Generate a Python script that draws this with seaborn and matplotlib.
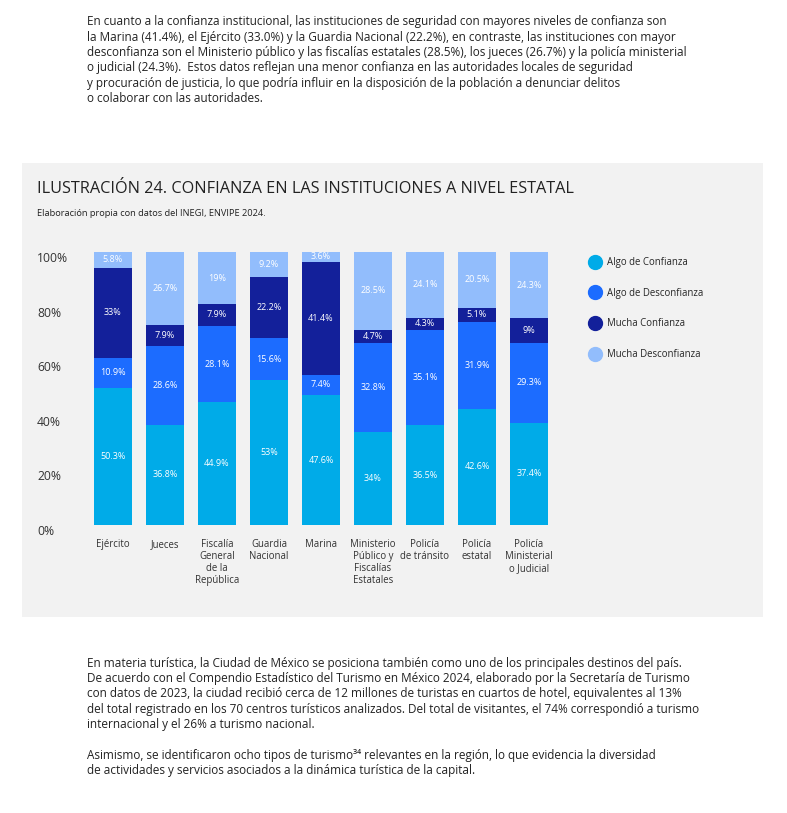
import numpy as np
import pandas as pd
import seaborn as sns
import matplotlib
matplotlib.use('Agg')
import matplotlib.pyplot as plt
from matplotlib.patches import Rectangle
from matplotlib.lines import Line2D

# Data (percentages, bottom to top)
categories = ["Ejército", "Jueces", "Fiscalía\nGeneral\nde la\nRepública", "Guardia\nNacional",
              "Marina", "Ministerio\nPúblico y\nFiscalías\nEstatales", "Policía\nde tránsito",
              "Policía\nestatal", "Policía\nMinisterial\no Judicial"]
algo_confianza = [50.3, 36.8, 44.9, 53.0, 47.6, 34.0, 36.5, 42.6, 37.4]
algo_desconfianza = [10.9, 28.6, 28.1, 15.6, 7.4, 32.8, 35.1, 31.9, 29.3]
mucha_confianza = [33.0, 7.9, 7.9, 22.2, 41.4, 4.7, 4.3, 5.1, 9.0]
mucha_desconfianza = [5.8, 26.7, 19.0, 9.2, 3.6, 28.5, 24.1, 20.5, 24.3]

series_names = ["Algo de Confianza", "Algo de Desconfianza", "Mucha Confianza", "Mucha Desconfianza"]
series_values = [algo_confianza, algo_desconfianza, mucha_confianza, mucha_desconfianza]
series_colors = ["#00abe8", "#1c6cff", "#13209a", "#92bdfc"]

intro_lines = [
    "En cuanto a la confianza institucional, las instituciones de seguridad con mayores niveles de confianza son",
    "la Marina (41.4%), el Ejército (33.0%) y la Guardia Nacional (22.2%), en contraste, las instituciones con mayor",
    "desconfianza son el Ministerio público y las fiscalías estatales (28.5%), los jueces (26.7%) y la policía ministerial",
    "o judicial (24.3%).  Estos datos reflejan una menor confianza en las autoridades locales de seguridad",
    "y procuración de justicia, lo que podría influir en la disposición de la población a denunciar delitos",
    "o colaborar con las autoridades.",
]
outro_lines = [
    "En materia turística, la Ciudad de México se posiciona también como uno de los principales destinos del país.",
    "De acuerdo con el Compendio Estadístico del Turismo en México 2024, elaborado por la Secretaría de Turismo",
    "con datos de 2023, la ciudad recibió cerca de 12 millones de turistas en cuartos de hotel, equivalentes al 13%",
    "del total registrado en los 70 centros turísticos analizados. Del total de visitantes, el 74% correspondió a turismo",
    "internacional y el 26% a turismo nacional.",
    "",
    "Asimismo, se identificaron ocho tipos de turismo³⁴ relevantes en la región, lo que evidencia la diversidad",
    "de actividades y servicios asociados a la dinámica turística de la capital.",
]

sns.set_theme(style="white")
plt.rcParams['font.family'] = ['Open Sans', 'DejaVu Sans']

W, H = 787, 813
fig = plt.figure(figsize=(W / 100, H / 100), dpi=100)


def fx(px):
    return px / W


def fy(py):
    return 1 - py / H


# gray panel
panel = Rectangle((fx(22), fy(617)), fx(763) - fx(22), (617 - 163) / H,
                  transform=fig.transFigure, facecolor="#f2f2f2",
                  edgecolor="none", zorder=-10)
fig.add_artist(panel)

# body text
text_color = "#222222"
for i, line in enumerate(intro_lines):
    fig.text(fx(87), fy(22 + i * 15.3), line, fontsize=8.5, color=text_color, va="center", ha="left")
for i, line in enumerate(outro_lines):
    fig.text(fx(87), fy(663 + i * 15.4), line, fontsize=8.5, color=text_color, va="center", ha="left")

fig.text(fx(37), fy(189), "ILUSTRACIÓN 24. CONFIANZA EN LAS INSTITUCIONES A NIVEL ESTATAL",
         fontsize=11.7, color="#222222", va="center", ha="left")
fig.text(fx(37), fy(213), "Elaboración propia con datos del INEGI, ENVIPE 2024.",
         fontsize=6.7, color="#222222", va="center", ha="left")

# chart
ax = fig.add_axes([fx(87), fy(525), fx(555) - fx(87), (525 - 252) / H])
ax.set_facecolor("none")
ax.set_zorder(1)

df = pd.DataFrame({"categoria": categories})
cum = np.cumsum(np.array(series_values), axis=0)
# draw from the top layer down so each lower layer overlays the cumulative total
for k in range(len(series_values) - 1, -1, -1):
    df["valor"] = cum[k]
    sns.barplot(data=df, x="categoria", y="valor", color=series_colors[k], width=0.74,
                saturation=1, ax=ax, edgecolor="none", linewidth=0)

for k, vals in enumerate(series_values):
    bottoms = cum[k] - np.array(vals)
    for i, v in enumerate(vals):
        lab = f"{v:g}%"
        ax.text(i, bottoms[i] + v / 2, lab, ha="center", va="center",
                fontsize=6.5, color="white")

ax.set_xlim(-0.5, len(categories) - 0.5)
ax.set_ylim(0, 100)
ax.set_yticks([0, 20, 40, 60, 80, 100])
ax.set_yticklabels([f"{t}%" for t in [0, 20, 40, 60, 80, 100]], fontsize=8.7, color="#333333")
for lab in ax.get_yticklabels():
    lab.set_ha("left")
    lab.set_va("top")
ax.tick_params(axis="y", length=0, pad=36)
ax.tick_params(axis="x", length=0, pad=10)
for lab in ax.get_xticklabels():
    lab.set_fontsize(6.9)
    lab.set_color("#333333")
    lab.set_linespacing(1.12)
    lab.set_va("top")
ax.set_xlabel("")
ax.set_ylabel("")
for s in ax.spines.values():
    s.set_visible(False)
ax.grid(False)

handles = [Line2D([], [], marker="o", linestyle="", markersize=10, color=c) for c in series_colors]
fig.legend(handles, series_names, loc="upper left", bbox_to_anchor=(fx(590), fy(257)),
           frameon=False, fontsize=6.9, labelspacing=2.05, handletextpad=0.8,
           borderaxespad=0, borderpad=0, handlelength=1.0)

fig.savefig("out.png", dpi=100)
